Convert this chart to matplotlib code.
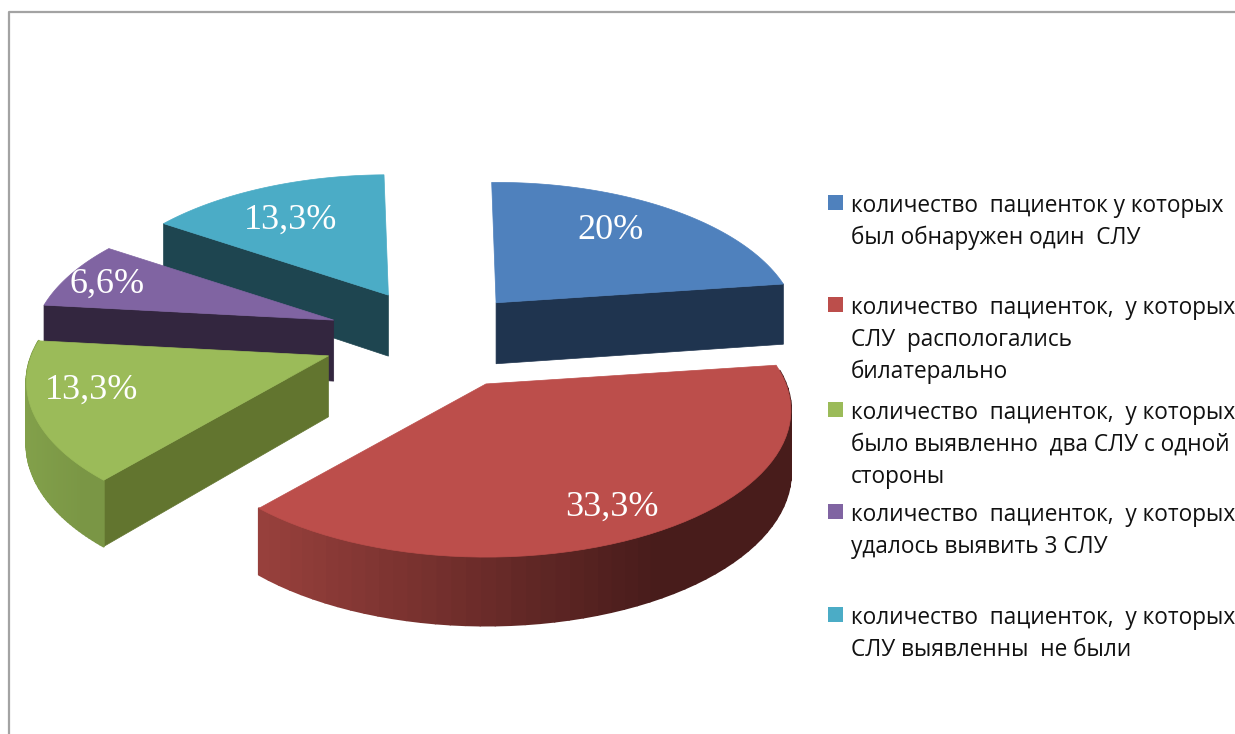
import numpy as np
import matplotlib
matplotlib.use('Agg')
import matplotlib.pyplot as plt
from matplotlib.patches import Polygon, Rectangle

# share of patients per group, %
values = [20, 33.3, 13.3, 6.6, 13.3]
value_labels = ['20%', '33,3%', '13,3%', '6,6%', '13,3%']
legend_lines = [
    ['количество  пациенток у которых', 'был обнаружен один  СЛУ'],
    ['количество  пациенток,  у которых', 'СЛУ  распологались', 'билатерально'],
    ['количество  пациенток,  у которых', 'было выявленно  два СЛУ с одной', 'стороны'],
    ['количество  пациенток,  у которых', 'удалось выявить 3 СЛУ'],
    ['количество  пациенток,  у которых', 'СЛУ выявленны  не были'],
]

# styles
top_colors = ['#4F81BD', '#BC4E4B', '#9BBB59', '#8064A2', '#4BACC6']
face_colors = ['#1F344F', '#4A1E1C', '#62752F', '#33263F', '#1E4550']
wall_left = ['#2A4468', '#98403C', '#82A04A', '#5A4672', '#2F7F92']
wall_right = ['#1F344F', '#481C1B', '#7A9645', '#4A3A60', '#1E4550']
explode = [0.29, 0.36, 0.40, 0.37, 0.32]
nudge_x = [0, -5, -1, -3, -6]
nudge_y = [-1, 4, 0, 3, 0]
size_scale = [1, 1.01, 1, 1, 1]
label_ang = [37, 154, 253, 288.5, 328]
label_r = [0.73, 0.81, 0.79, 0.85, 0.72]
draw_order = [0, 4, 3, 2, 1]

CX, CY = 440, 335
R, RY = 297, 142
P = 0.18
DEPTH = 61
START = -1.0

fig = plt.figure(figsize=(12.35, 7.34), dpi=100)
ax = fig.add_axes([0, 0, 1, 1])
ax.set_xlim(0, 1235)
ax.set_ylim(734, 0)
ax.axis('off')

# chart frame
ax.plot([8.5, 8.5, 1235], [734, 12, 12], color='#A3A3A3', lw=1.6)


def rim(apex, ang, scale=1):
    a = np.radians(ang)
    x, f = np.sin(a), -np.cos(a)
    s = 1 / (1 - P * f)
    return apex[0] + R * scale * x * s, apex[1] + RY * f * s, 1 + (s - 1) * 0.55


spans = np.array(values) / sum(values) * 360
ends = START + np.cumsum(spans)
starts = ends - spans

for i in draw_order:
    mid = (starts[i] + ends[i]) / 2
    m = np.radians(mid)
    apex = (CX + explode[i] * R * np.sin(m) + nudge_x[i],
            CY - explode[i] * RY * np.cos(m) + nudge_y[i])
    angs = np.linspace(starts[i], ends[i], 60)
    pts = np.array([rim(apex, a, size_scale[i]) for a in angs])

    # flat cut faces, only the ones turned to the viewer
    for k, normal in ((0, starts[i] - 90), (-1, ends[i] + 90)):
        if -np.cos(np.radians(normal)) < 0.05:
            continue
        p = pts[k]
        ax.add_patch(Polygon([apex, p[:2], (p[0], p[1] + DEPTH * p[2]), (apex[0], apex[1] + DEPTH)],
                             closed=True, fc=face_colors[i], ec=face_colors[i], lw=0.5))

    # outer wall as thin strips for the shading
    c0 = np.array(matplotlib.colors.to_rgb(wall_left[i]))
    c1 = np.array(matplotlib.colors.to_rgb(wall_right[i]))
    xmin, xmax = pts[:, 0].min(), pts[:, 0].max()
    for j in range(len(pts) - 1):
        a, b = pts[j], pts[j + 1]
        if -np.cos(np.radians(angs[j])) < -0.1:
            continue
        t = ((a[0] + b[0]) / 2 - xmin) / max(xmax - xmin, 1)
        col = c0 + (c1 - c0) * min(t * 1.35, 1)
        ax.add_patch(Polygon([a[:2], b[:2], (b[0], b[1] + DEPTH * b[2]), (a[0], a[1] + DEPTH * a[2])],
                             closed=True, fc=col, ec=col, lw=1.5, joinstyle='round'))

    # top
    ax.add_patch(Polygon(np.vstack([apex, pts[:, :2]]), closed=True,
                         fc=top_colors[i], ec=top_colors[i], lw=0.5))

    lx, ly, _ = rim(apex, label_ang[i])
    ax.text(apex[0] + (lx - apex[0]) * label_r[i], apex[1] + (ly - apex[1]) * label_r[i],
            value_labels[i], color='white', family='Liberation Serif', fontsize=26,
            ha='center', va='center')

# legend
first_line_y = [206, 308, 413, 515, 618]
for i, lines in enumerate(legend_lines):
    y0 = first_line_y[i]
    ax.add_patch(Rectangle((828, y0 - 11), 15, 15, fc=top_colors[i], ec='none'))
    for n, line in enumerate(lines):
        ax.text(851, y0 + n * 32, line, color='#111111', family='Open Sans', fontsize=16.3,
                ha='left', va='center', clip_on=True)

fig.savefig('out.png', dpi=100)
